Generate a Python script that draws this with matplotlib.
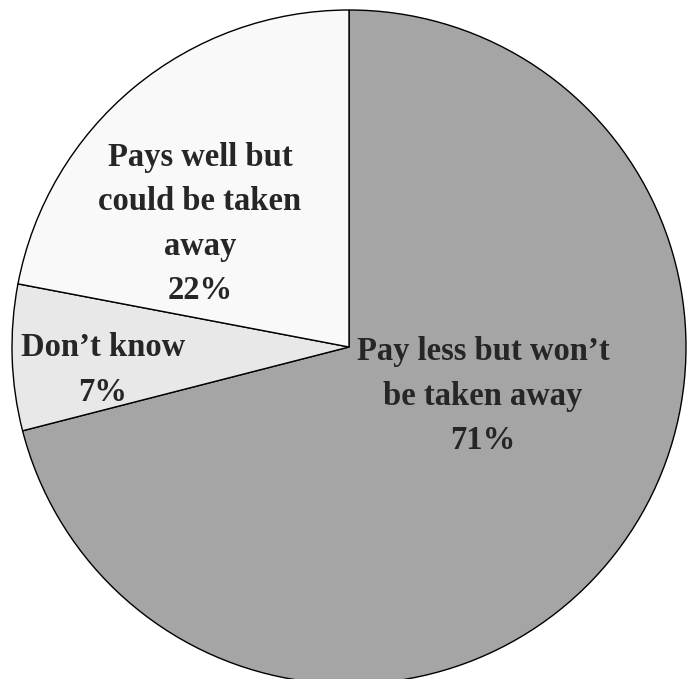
"""
Pie chart: preference between a well-paid job that could be lost and a secure lower-paid one.
"""
import matplotlib.pyplot as plt

labels = ["Pay less but won\u2019t\nbe taken away", "Don\u2019t know", "Pays well but\ncould be taken\naway"]
shares = [71, 7, 22]
colors = ["#a5a5a5", "#e8e8e8", "#f9f9f9"]

# label anchor points in pixel units (x right, y up)
label_pos = [(483, 283), (103, 309), (200, 455)]

W, H = 693, 679
fig = plt.figure(figsize=(W / 100, H / 100), dpi=100)
ax = fig.add_axes([0, 0, 1, 1])

ax.pie(shares, colors=colors, startangle=90, counterclock=False,
       center=(349, 332), radius=337, frame=True,
       wedgeprops=dict(edgecolor="black", linewidth=1.0))
ax.set_xlim(0, W)
ax.set_ylim(0, H)
ax.axis("off")

for lab, val, (x, y) in zip(labels, shares, label_pos):
    ax.text(x, y, f"{lab}\n{val}%", ha="center", va="center",
            fontsize=23.5, fontweight="bold", family="Liberation Serif",
            color="#262626", linespacing=1.55)

fig.savefig("out.png", dpi=100)
